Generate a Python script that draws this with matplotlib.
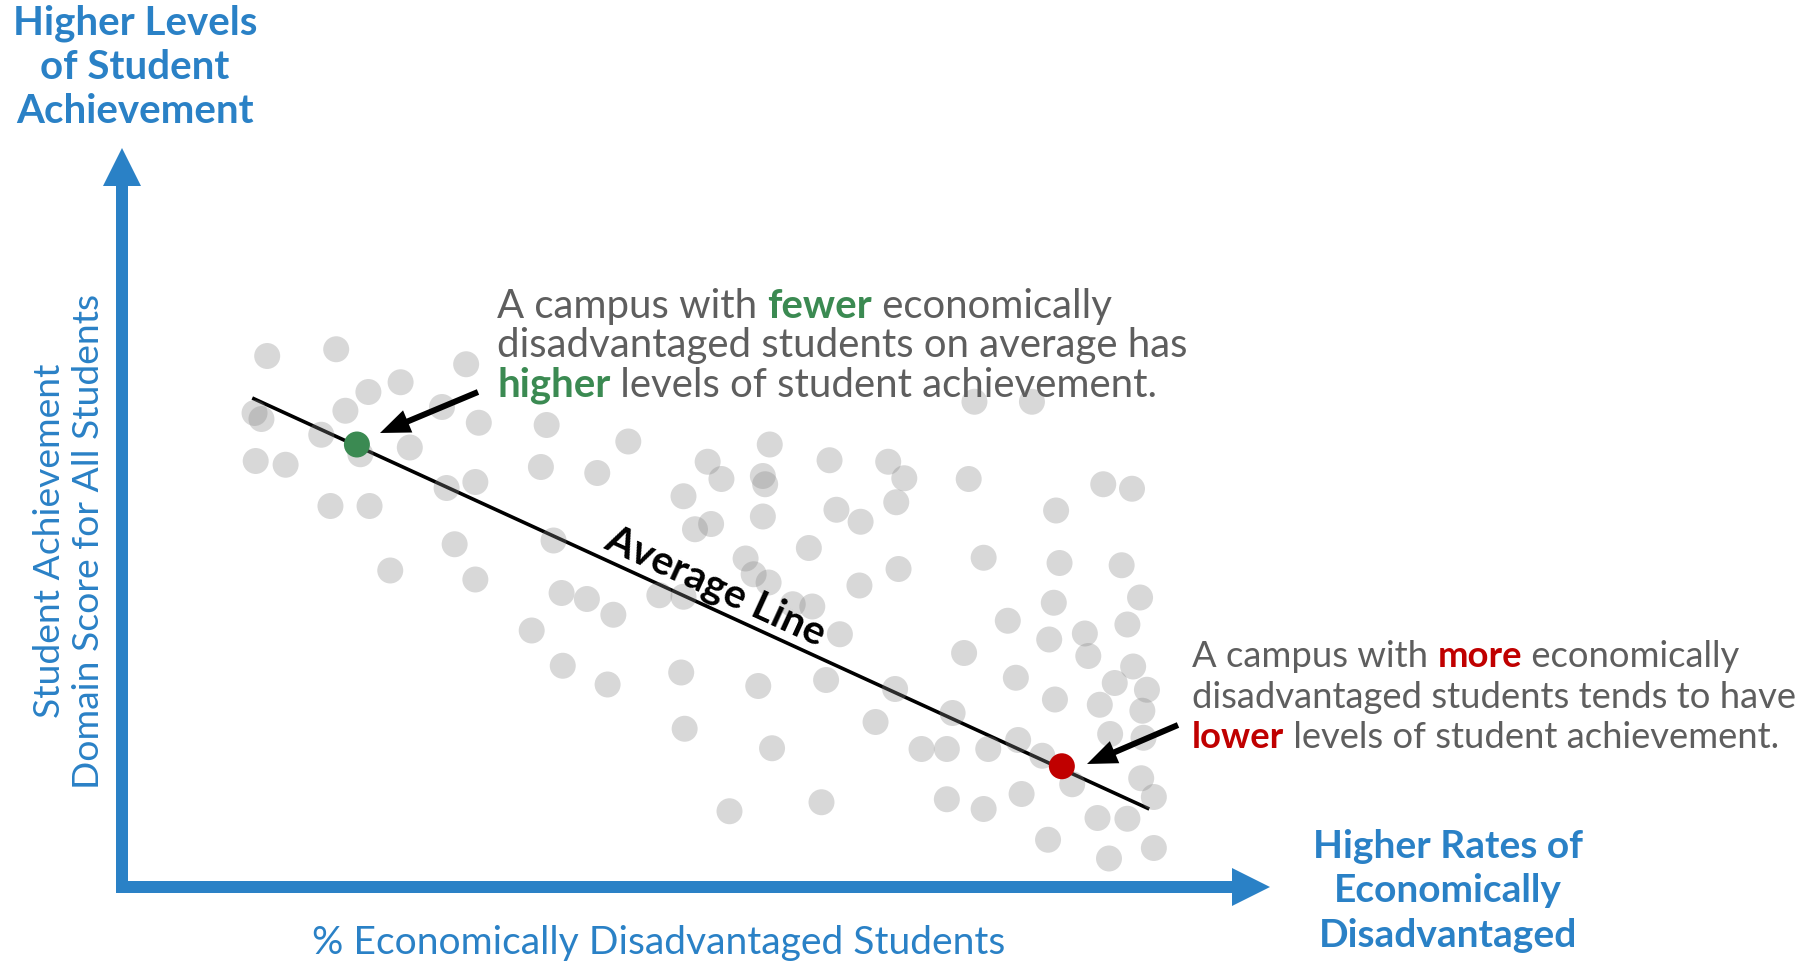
import matplotlib
matplotlib.use("Agg")
import matplotlib.pyplot as plt
from matplotlib.patches import Polygon, Rectangle

# Campus values (x: % econ. disadvantaged, y: achievement score)
pct_disadv = [
    12.8, 18.8, 30.1, 24.4, 21.6, 19.6, 28.0, 11.7, 12.3, 31.2, 37.1, 17.5, 25.2,
    20.9, 44.2, 11.8, 14.4, 36.6, 41.5, 30.9, 28.4, 18.3, 21.7, 49.0, 50.0, 29.1,
    37.7, 23.5, 30.9, 38.4, 40.6, 42.9, 46.9, 49.0, 35.8, 38.5, 42.4, 48.8, 49.1,
    74.3, 79.3, 56.5, 51.1, 52.3, 55.9, 56.1, 61.7, 66.8, 68.2, 73.8, 67.5, 85.5,
    88.0, 55.9, 62.3, 64.4, 81.4, 51.4, 59.9, 54.4, 55.1, 56.4, 75.1, 81.7, 87.1,
    67.7, 64.3, 81.2, 88.7, 58.5, 60.2, 77.2, 80.8, 83.9, 87.6, 84.2, 62.6, 73.4,
    88.1, 86.5, 89.3, 77.9, 81.3, 85.2, 88.9, 86.1, 89.0, 55.5, 61.4, 67.4, 72.4,
    65.7, 56.7, 69.7, 71.9, 75.5, 78.1, 80.2, 82.8, 88.8, 89.9, 78.4, 71.9, 75.1,
    61.0, 53.0, 85.0, 87.6, 80.7, 86.0, 89.9,
]
achievement = [
    70.8, 71.7, 69.7, 67.3, 66.0, 63.5, 64.0, 63.2, 62.4, 61.9, 61.6, 60.3, 58.6,
    57.7, 59.4, 56.8, 56.3, 56.0, 55.2, 54.0, 53.2, 50.8, 50.8, 52.1, 47.7, 45.7,
    46.2, 42.2, 41.0, 39.2, 38.4, 36.3, 38.9, 38.7, 34.2, 29.5, 27.0, 28.6, 21.1,
    64.7, 64.7, 59.0, 56.7, 54.4, 54.8, 53.7, 56.9, 56.7, 54.5, 54.4, 51.3, 53.7,
    53.1, 49.4, 50.3, 48.7, 50.2, 48.4, 45.2, 43.8, 41.7, 40.6, 43.9, 43.2, 42.9,
    42.4, 40.2, 37.9, 38.6, 37.7, 37.4, 35.5, 33.0, 33.8, 35.0, 30.8, 33.7, 31.2,
    29.4, 27.2, 26.3, 27.9, 25.0, 24.3, 23.5, 20.4, 19.9, 26.8, 27.6, 26.4, 23.2,
    22.0, 18.5, 18.4, 18.4, 18.4, 19.6, 17.5, 13.7, 14.5, 12.0, 12.4, 11.7, 10.4,
    11.3, 10.1, 9.2, 9.1, 6.3, 3.8, 5.2,
]

# highlighted campuses and the average line
fewer_pt = (20.6, 59.0)
more_pt = (81.9, 16.1)
avg_x = [11.5, 89.5]
avg_y = [65.2, 10.4]

y_title = ["Higher Levels", "of Student", "Achievement"]
x_title = ["Higher Rates of", "Economically", "Disadvantaged"]

BLUE = "#2a81c6"
GREY_TXT = "#5e5e5e"
GREEN = "#3b8a52"
RED = "#c00000"
FONT = "Lato"

fig = plt.figure(figsize=(18.09, 9.65), dpi=100)

# data axes, origin sits on the corner of the blue arrows
ax = fig.add_axes([0, 0, 1, 1])
ax.set_xlim(-120 / 11.5, 1689 / 11.5)
ax.set_ylim(-78 / 7.5, 887 / 7.5)
ax.axis("off")

ax.plot(avg_x, avg_y, color="black", lw=2.6, solid_capstyle="butt", zorder=2)
ax.scatter(pct_disadv, achievement, s=350, color="#878787", alpha=0.32,
           edgecolors="none", zorder=3)
ax.scatter([fewer_pt[0]], [fewer_pt[1]], s=350, color=GREEN, edgecolors="none", zorder=4)
ax.scatter([more_pt[0]], [more_pt[1]], s=350, color=RED, edgecolors="none", zorder=4)

# overlay in pixel units for arrows and text
deco = fig.add_axes([0, 0, 1, 1])
deco.set_xlim(0, 1809)
deco.set_ylim(965, 0)
deco.axis("off")
deco.patch.set_alpha(0)

# blue axis arrows
deco.add_patch(Rectangle((116, 180), 12, 713, color=BLUE, lw=0))
deco.add_patch(Polygon([(103, 186), (141, 186), (122, 148)], color=BLUE, lw=0))
deco.add_patch(Rectangle((116, 881), 1120, 12, color=BLUE, lw=0))
deco.add_patch(Polygon([(1232, 868), (1232, 906), (1270, 887)], color=BLUE, lw=0))

# black pointer arrows
deco.arrow(478, 392, 380 - 478, 433 - 392, width=6, head_width=24, head_length=30,
           length_includes_head=True, color="black", lw=0)
deco.arrow(1178, 725, 1087 - 1178, 764 - 725, width=6, head_width=24, head_length=30,
           length_includes_head=True, color="black", lw=0)

for i, line in enumerate(y_title):
    deco.text(135, 35 + 44 * i, line, ha="center", va="baseline", color=BLUE,
              fontsize=29, fontweight="bold", family=FONT)
for i, line in enumerate(x_title):
    deco.text(1448, 858 + 44.5 * i, line, ha="center", va="baseline", color=BLUE,
              fontsize=28, fontweight="bold", family=FONT)

deco.text(69, 541, "Student Achievement\nDomain Score for All Students", rotation=90,
          ha="center", va="center", color=BLUE, fontsize=26.8, family=FONT,
          linespacing=1.22)
deco.text(659, 943, "% Economically Disadvantaged Students", ha="center", va="center",
          color=BLUE, fontsize=28.1, family=FONT)
deco.text(715, 587, "Average Line", rotation=-24.6, rotation_mode="anchor",
          ha="center", va="center", color="black", fontsize=29.5, fontweight="bold",
          family=FONT)

renderer = fig.canvas.get_renderer()


def draw_runs(x0, y, runs, size):
    x = x0
    for txt, color, weight in runs:
        t = deco.text(x, y, txt, ha="left", va="baseline", color=color,
                      fontsize=size, fontweight=weight, family=FONT)
        x += t.get_window_extent(renderer).width


top_lines = [
    [("A campus with ", GREY_TXT, "normal"), ("fewer", GREEN, "bold"),
     (" economically", GREY_TXT, "normal")],
    [("disadvantaged students on average has", GREY_TXT, "normal")],
    [("higher", GREEN, "bold"), (" levels of student achievement.", GREY_TXT, "normal")],
]
for i, runs in enumerate(top_lines):
    draw_runs(497, 318 + 39.5 * i, runs, 28.9)

low_lines = [
    [("A campus with ", GREY_TXT, "normal"), ("more", RED, "bold"),
     (" economically", GREY_TXT, "normal")],
    [("disadvantaged students tends to have", GREY_TXT, "normal")],
    [("lower", RED, "bold"), (" levels of student achievement.", GREY_TXT, "normal")],
]
for i, runs in enumerate(low_lines):
    draw_runs(1192, 667 + 40.5 * i, runs, 26.2)

fig.savefig("out.png", dpi=100)
